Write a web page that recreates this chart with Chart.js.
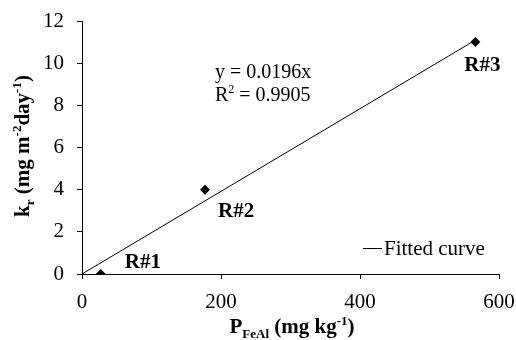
<!DOCTYPE html>
<html>
<head>
<meta charset="utf-8">
<script src="https://cdn.jsdelivr.net/npm/chart.js@4"></script>
<style>
  html, body { margin: 0; padding: 0; background: #fff; }
  #wrap { width: 516px; height: 340px; }
</style>
</head>
<body>
<div id="wrap"><canvas id="myChart" width="516" height="340"></canvas></div>
<script>
// measured points (P_FeAl, k_r)
const reactors = ["R#1", "R#2", "R#3"];
const pFeAl = [27, 177, 566];
const kr = [0, 4, 11];

// linear fit through origin
const fitSlope = 0.0196;
const fitR2 = 0.9905;
const fitX = [0, 566];

const xTicks = [0, 200, 400, 600];
const yTicks = [0, 2, 4, 6, 8, 10, 12];

const SERIF = "'Liberation Serif', 'Times New Roman', serif";

// text made of normal / sub / sup pieces
function richWidth(ctx, parts, size, weight) {
  let w = 0;
  parts.forEach((p) => {
    const s = p.k === "n" ? size : Math.round(size * 0.62);
    ctx.font = `${weight} ${s}px ${SERIF}`;
    w += ctx.measureText(p.t).width;
  });
  return w;
}

function drawRich(ctx, parts, x, y, size, weight) {
  let cx = x;
  parts.forEach((p) => {
    let s = size;
    let dy = 0;
    if (p.k === "sub") {
      s = Math.round(size * 0.62);
      dy = size * 0.22;
    } else if (p.k === "sup") {
      s = Math.round(size * 0.62);
      dy = -size * 0.38;
    }
    ctx.font = `${weight} ${s}px ${SERIF}`;
    ctx.fillText(p.t, cx, y + dy);
    cx += ctx.measureText(p.t).width;
  });
}

const annotations = {
  id: "annotations",
  afterDraw(chart) {
    const ctx = chart.ctx;
    const xs = chart.scales.x;
    const ys = chart.scales.y;
    ctx.save();
    ctx.fillStyle = "#000";
    ctx.strokeStyle = "#000";
    ctx.textBaseline = "alphabetic";
    ctx.textAlign = "left";

    // point labels: left edge / baseline offset from each marker
    const offs = [
      [24, -6],
      [13, 27],
      [-11, 29],
    ];
    ctx.font = `bold 21px ${SERIF}`;
    reactors.forEach((name, i) => {
      const px = xs.getPixelForValue(pFeAl[i]);
      const py = ys.getPixelForValue(kr[i]);
      ctx.fillText(name, px + offs[i][0], py + offs[i][1]);
    });

    // fit equation
    ctx.font = `20px ${SERIF}`;
    ctx.fillText(`y = ${fitSlope}x`, 215, 78);
    drawRich(
      ctx,
      [
        { t: "R", k: "n" },
        { t: "2", k: "sup" },
        { t: ` = ${fitR2}`, k: "n" },
      ],
      215,
      101,
      20,
      "normal"
    );

    // legend
    ctx.lineWidth = 1;
    ctx.beginPath();
    ctx.moveTo(363, 248.5);
    ctx.lineTo(382, 248.5);
    ctx.stroke();
    ctx.font = `21px ${SERIF}`;
    ctx.fillText("Fitted curve", 384, 255);

    // x axis title
    const xParts = [
      { t: "P", k: "n" },
      { t: "FeAl", k: "sub" },
      { t: " (mg kg", k: "n" },
      { t: "-1", k: "sup" },
      { t: ")", k: "n" },
    ];
    const xw = richWidth(ctx, xParts, 21, "bold");
    drawRich(ctx, xParts, 292 - xw / 2, 333, 21, "bold");

    // y axis title
    const yParts = [
      { t: "k", k: "n" },
      { t: "r", k: "sub" },
      { t: " (mg m", k: "n" },
      { t: "-2", k: "sup" },
      { t: "day", k: "n" },
      { t: "-1", k: "sup" },
      { t: ")", k: "n" },
    ];
    const yw = richWidth(ctx, yParts, 21, "bold");
    ctx.translate(29, 146);
    ctx.rotate(-Math.PI / 2);
    drawRich(ctx, yParts, -yw / 2, 0, 21, "bold");

    ctx.restore();
  },
};

const ctx = document.getElementById("myChart").getContext("2d");
const myChart = new Chart(ctx, {
  type: "scatter",
  data: {
    datasets: [
      {
        label: "Fitted curve",
        type: "line",
        data: fitX.map((x) => ({ x: x, y: fitSlope * x })),
        borderColor: "#000",
        borderWidth: 1,
        pointRadius: 0,
        fill: false,
      },
      {
        label: "Reactors",
        data: pFeAl.map((x, i) => ({ x: x, y: kr[i] })),
        pointStyle: "rectRot",
        pointRadius: 5,
        backgroundColor: "#000",
        borderColor: "#000",
        borderWidth: 0,
      },
    ],
  },
  options: {
    responsive: false,
    animation: false,
    devicePixelRatio: 1,
    layout: { padding: { left: 0, right: 17, top: 21, bottom: 0 } },
    plugins: {
      legend: { display: false },
      tooltip: { enabled: false },
    },
    scales: {
      x: {
        type: "linear",
        min: xTicks[0],
        max: xTicks[xTicks.length - 1],
        afterBuildTicks: (axis) => {
          axis.ticks = xTicks.map((v) => ({ value: v }));
        },
        afterFit: (axis) => {
          axis.height = 66;
          axis.paddingLeft = 0;
          axis.paddingRight = 0;
        },
        ticks: {
          color: "#000",
          font: { family: SERIF, size: 21 },
          padding: 11,
          maxRotation: 0,
        },
        grid: {
          drawOnChartArea: false,
          tickLength: 5,
          color: "#000",
        },
        border: { color: "#000", width: 1 },
      },
      y: {
        type: "linear",
        min: yTicks[0],
        max: yTicks[yTicks.length - 1],
        afterBuildTicks: (axis) => {
          axis.ticks = yTicks.map((v) => ({ value: v }));
        },
        afterFit: (axis) => {
          axis.width = 82;
          axis.paddingTop = 0;
          axis.paddingBottom = 0;
        },
        ticks: {
          color: "#000",
          font: { family: SERIF, size: 21 },
          padding: 13,
        },
        grid: {
          drawOnChartArea: false,
          tickLength: 5,
          color: "#000",
        },
        border: { color: "#000", width: 1 },
      },
    },
  },
  plugins: [annotations],
});
</script>
</body>
</html>
